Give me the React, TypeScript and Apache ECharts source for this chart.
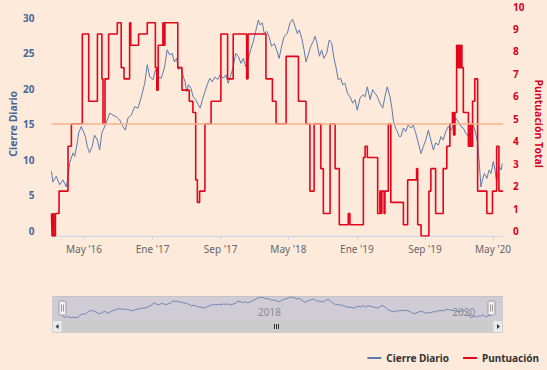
import React, { useEffect, useRef } from "react";
import * as echarts from "echarts";

// x values are day offsets counted from 2016-01-01
const closeDays = [5,10,22,34,46,58,66,70,82,88,97,102,111,117,126,133,141,150,159,169,177,185,195,204,213,225,236,249,260,269,278,290,302,314,326,338,347,356,368,376,385,397,409,418,427,436,444,452,458,467,476,482,488,494,503,511,520,529,536,544,553,563,571,579,589,599,607,619,628,636,646,654,663,672,682,690,699,708,718,726,734,744,750,758,765,774,782,791,801,809,818,827,836,847,857,866,875,883,890,899,907,914,922,931,940,946,952,962,970,978,988,997,1006,1014,1021,1029,1038,1045,1053,1062,1071,1081,1089,1097,1107,1117,1125,1133,1143,1152,1160,1169,1178,1188,1196,1204,1214,1220,1226,1232,1240,1247,1253,1262,1270,1279,1289,1297,1306,1315,1325,1333,1342,1351,1360,1369,1377,1387,1396,1404,1413,1422,1432,1440,1449,1458,1468,1476,1484,1494,1503,1512,1520,1527,1532,1539,1544,1551,1560,1568,1575,1583,1589,1595,1603,1611,1615];
const closeValues = [9.1,7.6,8.4,7.2,7.9,6.9,8.9,10.3,11.7,11.2,13.1,14.5,15.4,14.9,14.0,12.6,11.7,12.6,14.2,13.5,12.1,14.5,15.4,16.3,17.3,17.0,16.8,16.3,15.4,14.9,16.6,17.0,18.2,18.0,19.6,21.5,24.1,22.4,22.0,23.4,22.4,22.2,23.8,26.2,25.5,25.7,24.5,25.0,23.4,23.8,22.4,21.7,20.3,21.3,20.8,19.6,19.2,18.5,18.0,19.2,20.3,21.5,22.2,21.7,22.4,22.0,22.7,22.2,22.7,21.5,22.7,23.8,25.7,25.3,24.3,25.0,23.8,25.0,26.4,27.4,28.8,30.4,29.7,30.0,28.5,28.8,28.1,26.7,27.1,26.2,25.0,26.7,28.1,28.5,30.0,30.5,29.5,28.5,29.0,27.8,26.2,24.5,25.5,26.7,27.4,28.1,27.4,25.3,26.2,25.0,25.7,27.6,27.1,25.0,23.8,22.0,22.2,21.3,21.5,20.1,19.6,18.7,19.2,17.7,19.4,19.9,19.6,21.0,19.2,20.6,20.1,19.6,18.7,18.0,19.6,21.0,19.6,18.2,16.3,15.4,14.7,14.0,14.0,15.2,14.7,15.6,15.2,15.6,14.5,13.1,11.6,12.6,13.5,14.9,13.5,12.1,13.1,12.8,14.0,13.5,14.7,15.4,14.9,15.6,16.6,16.1,15.4,15.2,14.5,14.0,14.7,15.6,14.5,13.1,10.7,6.9,7.9,8.8,8.1,9.3,8.8,10.5,9.3,7.6,9.8,9.3,10.2];

const scoreDays = [5,7,10,13,19,32,64,76,115,138,169,185,189,196,209,240,254,264,284,288,316,347,376,381,386,403,406,410,456,471,497,510,520,526,534,553,575,610,634,654,702,707,771,794,807,843,887,914,928,943,967,976,1000,1018,1033,1065,1071,1119,1125,1133,1170,1178,1182,1185,1193,1196,1208,1217,1262,1277,1309,1313,1325,1353,1360,1377,1404,1417,1428,1437,1441,1446,1452,1457,1461,1464,1468,1471,1476,1494,1500,1503,1509,1517,1527,1560,1580,1595,1603,1618];
const scoreValues = [1,0,1,0,1,2,4,5,9,6,9,7,5,7,9,9.5,7.5,7,9.5,8.5,9,9.5,7.5,6.5,8.5,9.5,8.5,9.5,7.5,6.5,6,5.5,2.5,1.5,2,5,6,9,7,9,7,9,7,6,5,8,6,5,2,5,3,1,5,3,0.5,1,0.5,3.5,4,3.5,1,2,1,2,1,2,5,1.5,0.5,2.5,3,0.5,0,2,3,1,3,4,5,5.5,4.5,5.5,8.5,7.5,8.5,7.5,8.5,7.5,5.5,4,5,4,6,7,2,1,2,4,2,2];

const dateTickDays = [121, 366, 609, 851, 1096, 1339, 1582];
const navYearTickDays = [731, 1461];
const closeTicks = [0, 5, 10, 15, 20, 25, 30];
const scoreThreshold = 5;
const monthsEs = ["Ene","Feb","Mar","Abr","May","Jun","Jul","Ago","Sep","Oct","Nov","Dic"];

const DAY0 = Date.UTC(2016, 0, 1);
const toDate = (d: number) => new Date(DAY0 + Math.round(d) * 86400000);
const dayLabel = (d: number) => {
  const dt = toDate(d);
  return `${monthsEs[dt.getUTCMonth()]} '${String(dt.getUTCFullYear()).slice(2)}`;
};

const FONT = "Noto Sans";
const BLUE = "#5d79aa";
const RED = "#e3051b";

export default function App() {
  const ref = useRef<HTMLDivElement>(null);
  useEffect(() => {
    document.body.style.margin = "0";
    document.body.style.background = "#fdeada";
    if (!ref.current) return;
    const chart = echarts.init(ref.current, undefined, { renderer: "svg" });
    const closeData = closeDays.map((d, i) => [d, closeValues[i]]);
    const scoreData = scoreDays.map((d, i) => [d, scoreValues[i]]);
    const hx = (cx: number) => [
      { type: "rect", z: 20, shape: { x: cx - 3.5, y: 301, width: 7, height: 14, r: 1.5 }, style: { fill: "#f2f2f2", stroke: "#999999", lineWidth: 1 } },
      { type: "line", z: 21, shape: { x1: cx - 1, y1: 304.5, x2: cx - 1, y2: 311.5 }, style: { stroke: "#999999", lineWidth: 1 } },
      { type: "line", z: 21, shape: { x1: cx + 1, y1: 304.5, x2: cx + 1, y2: 311.5 }, style: { stroke: "#999999", lineWidth: 1 } },
    ];
    chart.setOption({
      animation: false,
      backgroundColor: "#fdeada",
      textStyle: { fontFamily: FONT },
      grid: [
        { left: 51.5, width: 451.6, top: 11.5, height: 224.5, outerBoundsMode: "none", containLabel: false },
        { left: 63, width: 429, top: 297, height: 21, outerBoundsMode: "none", containLabel: false },
      ],
      xAxis: [
        {
          type: "value", gridIndex: 0, min: 5, max: 1618,
          axisLine: { show: true, lineStyle: { color: "#ccd6eb", width: 1 } },
          axisTick: { show: true, customValues: dateTickDays, length: 4, lineStyle: { color: "#ccd6eb" } },
          axisLabel: { customValues: dateTickDays, formatter: (v: number) => dayLabel(v), color: "#666666", fontSize: 10, margin: 8, fontFamily: FONT },
          splitLine: { show: false },
        },
        {
          type: "value", gridIndex: 1, min: 5, max: 1618,
          axisLine: { show: false }, axisTick: { show: false }, splitLine: { show: false },
          axisLabel: {
            inside: true, customValues: navYearTickDays, align: "left", margin: 1, padding: [0, 0, 0, 2],
            formatter: (v: number) => String(toDate(v).getUTCFullYear()), color: "#8a8a8a", fontSize: 10, fontFamily: FONT,
          },
        },
      ],
      yAxis: [
        {
          type: "value", gridIndex: 0, position: "left", min: 0, max: 31.6, interval: 5,
          axisLine: { show: false }, axisTick: { show: false }, splitLine: { show: false },
          axisLabel: {
            formatter: (v: number) => (closeTicks.includes(v) ? String(v) : ""),
            color: "#4a6698", fontWeight: "bold", fontSize: 10, margin: 17, verticalAlign: "bottom", lineHeight: 10, fontFamily: FONT,
          },
          name: "Cierre Diario", nameLocation: "middle", nameGap: 33, nameRotate: 90, nameMoveOverlap: false,
          nameTextStyle: { color: "#4a6698", fontWeight: "bold", fontSize: 10.5, fontFamily: FONT },
        },
        {
          type: "value", gridIndex: 0, position: "right", min: 0, max: 10, interval: 1,
          axisLine: { show: false }, axisTick: { show: false }, splitLine: { show: false },
          axisLabel: { color: "#d6001c", fontWeight: "bold", fontSize: 10, margin: 10, verticalAlign: "bottom", lineHeight: 10, fontFamily: FONT },
          name: "Puntuación Total", nameLocation: "middle", nameGap: 30, nameRotate: -90, nameMoveOverlap: false,
          nameTextStyle: { color: "#d6001c", fontWeight: "bold", fontSize: 10.5, fontFamily: FONT },
        },
        { type: "value", gridIndex: 1, min: "dataMin", max: "dataMax", show: false },
      ],
      legend: {
        data: ["Cierre Diario", "Puntuación"], right: 3, top: 348, icon: "rect",
        itemWidth: 14, itemHeight: 2, itemGap: 14,
        textStyle: { fontWeight: "bold", fontSize: 10, color: "#333333", fontFamily: FONT },
      },
      series: [
        {
          type: "line", name: "umbral", xAxisIndex: 0, yAxisIndex: 1, data: [], z: 1, silent: true,
          markLine: { silent: true, symbol: "none", label: { show: false }, lineStyle: { color: "#f6b38a", width: 1.5, type: "solid" }, data: [{ yAxis: scoreThreshold }] },
        },
        {
          type: "line", name: "Cierre Diario", xAxisIndex: 0, yAxisIndex: 0, data: closeData, symbol: "none", showSymbol: false,
          lineStyle: { width: 1, color: BLUE }, itemStyle: { color: BLUE }, z: 3,
        },
        {
          type: "line", name: "Puntuación", xAxisIndex: 0, yAxisIndex: 1, data: scoreData, step: "end", symbol: "none", showSymbol: false,
          lineStyle: { width: 1.6, color: RED }, itemStyle: { color: RED }, z: 4,
        },
        {
          type: "line", name: "nav", xAxisIndex: 1, yAxisIndex: 2, data: closeData, symbol: "none", showSymbol: false, silent: true,
          lineStyle: { width: 1, color: "#6f87b5" }, itemStyle: { color: "#6f87b5" }, z: 3,
        },
      ],
      graphic: [
        { type: "rect", z: 0, silent: true, shape: { x: 52, y: 296, width: 451, height: 24 }, style: { fill: "#d0ccd6" } },
        { type: "line", z: 1, silent: true, shape: { x1: 52, y1: 296.5, x2: 503, y2: 296.5 }, style: { stroke: "#c4c4c4", lineWidth: 1 } },
        { type: "rect", z: 1, silent: true, shape: { x: 52, y: 320, width: 451, height: 13 }, style: { fill: "#f2f2f2" } },
        { type: "rect", z: 1, silent: true, shape: { x: 62, y: 320, width: 431, height: 13 }, style: { fill: "#cccccc" } },
        { type: "rect", z: 1, silent: true, shape: { x: 52.5, y: 320.5, width: 9.5, height: 12 }, style: { fill: "#ebebeb", stroke: "#cccccc", lineWidth: 1 } },
        { type: "rect", z: 1, silent: true, shape: { x: 493, y: 320.5, width: 9.5, height: 12 }, style: { fill: "#ebebeb", stroke: "#cccccc", lineWidth: 1 } },
        { type: "polygon", z: 2, silent: true, shape: { points: [[55.5, 326.5], [58.5, 324], [58.5, 329]] }, style: { fill: "#333333" } },
        { type: "polygon", z: 2, silent: true, shape: { points: [[500, 326.5], [497, 324], [497, 329]] }, style: { fill: "#333333" } },
        { type: "line", z: 2, silent: true, shape: { x1: 274.5, y1: 324, x2: 274.5, y2: 329 }, style: { stroke: "#333333", lineWidth: 1 } },
        { type: "line", z: 2, silent: true, shape: { x1: 276.5, y1: 324, x2: 276.5, y2: 329 }, style: { stroke: "#333333", lineWidth: 1 } },
        { type: "line", z: 2, silent: true, shape: { x1: 278.5, y1: 324, x2: 278.5, y2: 329 }, style: { stroke: "#333333", lineWidth: 1 } },
        ...hx(62.5),
        ...hx(491.5),
      ],
    });
    return () => chart.dispose();
  }, []);
  return <div ref={ref} style={{ width: 547, height: 370, background: "#fdeada" }} />;
}
